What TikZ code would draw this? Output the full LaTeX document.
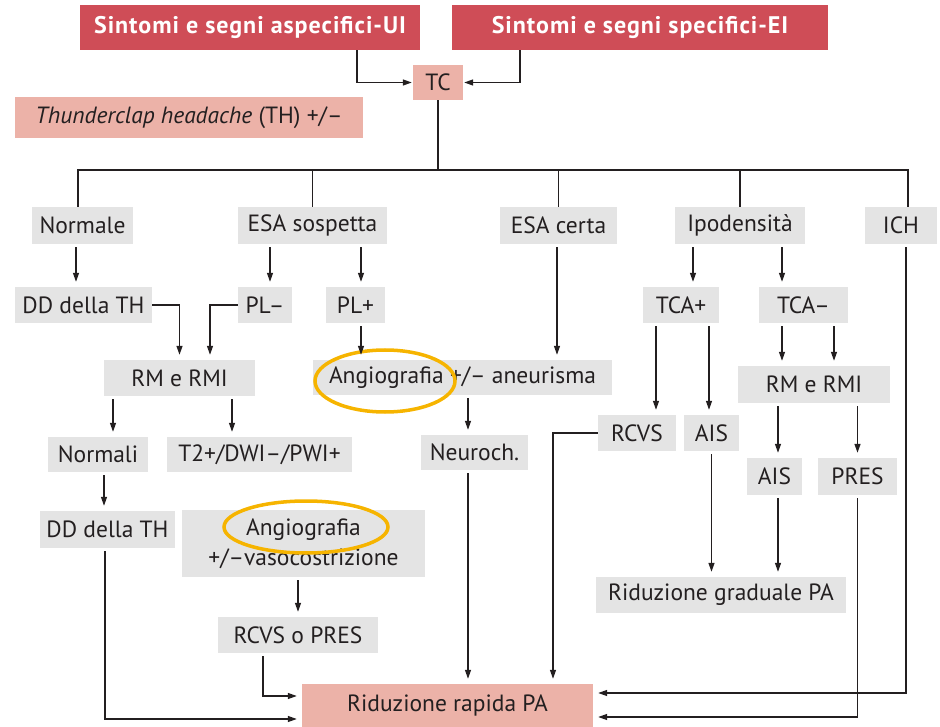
\documentclass[tikz,border=0pt]{standalone}
\usepackage{fontspec}
\setmainfont{PT Sans}
\usetikzlibrary{arrows.meta}

\definecolor{headred}{RGB}{207,77,87}
\definecolor{salmon}{RGB}{236,178,168}
\definecolor{boxgrey}{RGB}{228,228,228}
\definecolor{ringgold}{RGB}{246,180,0}
\definecolor{inkgrey}{RGB}{35,31,32}

\begin{document}
\begin{tikzpicture}[x=1pt,y=-1pt,
  every node/.style={font=\fontsize{23.5}{27}\selectfont, text=inkgrey, inner sep=0pt},
  greybox/.style={fill=boxgrey},
  headbox/.style={fill=headred, text=white, font=\fontsize{24}{27}\selectfont\bfseries\addfontfeature{LetterSpace=4}},
  pinkbox/.style={fill=salmon},
  line/.style={draw=inkgrey, line width=1.3pt},
  arr/.style={line, -{Triangle[length=9pt,width=6pt]}, shorten >=5pt, shorten <=3pt}
]
  \useasboundingbox (0,0) rectangle (940,727);

  % intestazione
  \node[headbox, minimum width=340, minimum height=45] (ui) at (250,27.5) {Sintomi e segni aspecifici-UI};
  \node[headbox, minimum width=376, minimum height=45] (ei) at (640,27.5) {Sintomi e segni specifici-EI};
  \node[pinkbox, minimum width=50, minimum height=35] (tc) at (438,82.5) {TC};
  \node[pinkbox, minimum width=348, minimum height=41] (th) at (189,117.5) {\textit{Thunderclap headache} (TH) +/–};

  % esiti della TC
  \node[greybox, minimum width=101, minimum height=37] (normale) at (82.5,225.5) {Normale};
  \node[greybox, minimum width=149, minimum height=37] (esasosp) at (312.5,225.5) {ESA sospetta};
  \node[greybox, minimum width=117, minimum height=37] (esacerta) at (558.5,225.5) {ESA certa};
  \node[greybox, minimum width=130, minimum height=37] (ipo) at (740,225.5) {Ipodensità};
  \node[greybox, minimum width=72, minimum height=37] (ich) at (901,225.5) {ICH};

  % secondo livello
  \node[greybox, minimum width=137, minimum height=36] (ddth) at (83.5,305) {DD della TH};
  \node[greybox, minimum width=54, minimum height=36] (plneg) at (265,305) {PL–};
  \node[greybox, minimum width=59, minimum height=36] (plpos) at (355.5,305) {PL+};
  \node[greybox, minimum width=76, minimum height=36] (tcapos) at (681,305) {TCA+};
  \node[greybox, minimum width=89, minimum height=36] (tcaneg) at (803.5,305) {TCA–};

  % terzo livello
  \node[greybox, minimum width=151, minimum height=36] (rmsx) at (179.5,378) {RM e RMI};
  \node[greybox, minimum width=299, minimum height=35] (angio) at (462.5,377.5) {Angiografia +/– aneurisma};
  \node[greybox, minimum width=152, minimum height=37] (rmdx) at (814,384.5) {RM e RMI};

  % quarto livello
  \node[greybox, minimum width=100, minimum height=35] (normali) at (98,454.5) {Normali};
  \node[greybox, minimum width=185, minimum height=35] (tdue) at (259.5,454.5) {T2+/DWI–/PWI+};
  \node[greybox, minimum width=107, minimum height=35] (neuro) at (474.5,452.5) {Neuroch.};
  \node[greybox, minimum width=78, minimum height=36] (rcvs) at (637,433) {RCVS};
  \node[greybox, minimum width=55, minimum height=36] (aissx) at (711.5,433) {AIS};
  \node[greybox, minimum width=55, minimum height=37] (aisdx) at (774.5,476.5) {AIS};
  \node[greybox, minimum width=79, minimum height=37] (pres) at (857.5,476.5) {PRES};

  % quinto livello
  \node[greybox, minimum width=135, minimum height=37] (ddthbis) at (107.5,529.5) {DD della TH};
  \node[greybox, minimum width=243, minimum height=67, align=center, font=\fontsize{23.5}{30}\selectfont] (angiobis) at (303.5,543.5) {Angiografia\\+/–vasocostrizione};
  \node[greybox, minimum width=250, minimum height=36] (ridgrad) at (721,595) {Riduzione graduale PA};
  \node[greybox, minimum width=160, minimum height=36] (rcvspres) at (298,635) {RCVS o PRES};
  \node[pinkbox, minimum width=291, minimum height=43] (ridrap) at (447.5,705.5) {Riduzione rapida PA};

  % evidenziazioni
  \draw[ringgold, line width=3.5pt] (385,381) ellipse (70 and 31);
  \draw[ringgold, line width=3.5pt] (306,527) ellipse (82 and 26);

  % collegamenti
  \coordinate (split) at (438,170);
  \draw[arr, shorten >=1pt, shorten <=0pt] ([xshift=107pt]ui.south) |- (tc.west);
  \draw[arr, shorten >=1pt, shorten <=0pt] ([xshift=-120pt]ei.south) |- (tc.east);
  \draw[line] (tc.south) -- (split);
  \draw[line] ([xshift=-4.5pt]normale.north) |- (split) -| ([xshift=7pt]ich.north);
  \foreach \n in {esasosp,esacerta,ipo}
    \draw[line] (\n.north) -- (\n.north |- split);

  \draw[arr] ([xshift=-6.5pt]normale.south) -- ([xshift=-6.5pt]normale.south |- ddth.north);
  \draw[arr] ([xshift=5pt]plneg.north |- esasosp.south) -- ([xshift=5pt]plneg.north);
  \draw[arr] ([xshift=5.5pt]plpos.north |- esasosp.south) -- ([xshift=5.5pt]plpos.north);
  \draw[arr] ([xshift=12pt]tcapos.north |- ipo.south) -- ([xshift=12pt]tcapos.north);
  \draw[arr] ([xshift=-21.5pt]tcaneg.north |- ipo.south) -- ([xshift=-21.5pt]tcaneg.north);

  \draw[arr, shorten <=0pt] (ddth.east) -| (rmsx.north);
  \draw[arr, shorten <=0pt] (plneg.west) -| ([xshift=30.5pt]rmsx.north);
  \draw[arr] ([xshift=5.5pt]plpos.south) -- ([xshift=5.5pt]plpos.south |- angio.north);
  \draw[arr] ([xshift=-1.5pt]esacerta.south) -- ([xshift=-1.5pt]esacerta.south |- angio.north);
  \draw[arr] ([xshift=-21.5pt]tcaneg.south) -- ([xshift=-21.5pt]tcaneg.south |- rmdx.north);
  \draw[arr] ([xshift=30.5pt]tcaneg.south) -- ([xshift=30.5pt]tcaneg.south |- rmdx.north);

  \draw[arr] ([xshift=-66.5pt]rmsx.south) -- ([xshift=-66.5pt]rmsx.south |- normali.north);
  \draw[arr] ([xshift=52.5pt]rmsx.south) -- ([xshift=52.5pt]rmsx.south |- tdue.north);
  \draw[arr] ([xshift=-6.5pt]neuro.north |- angio.south) -- ([xshift=-6.5pt]neuro.north);
  \draw[arr] ([xshift=19pt]rcvs.north |- tcapos.south) -- ([xshift=19pt]rcvs.north);
  \draw[arr] ([xshift=-2.5pt]aissx.north |- tcapos.south) -- ([xshift=-2.5pt]aissx.north);
  \draw[arr] ([xshift=3.5pt]aisdx.north |- rmdx.south) -- ([xshift=3.5pt]aisdx.north);
  \draw[arr] (pres.north |- rmdx.south) -- (pres.north);

  \draw[arr] ([xshift=6pt]normali.south) -- ([xshift=6pt]normali.south |- ddthbis.north);
  \draw[arr] (aissx.south) -- (aissx.south |- ridgrad.north);
  \draw[arr] ([xshift=3.5pt]aisdx.south) -- ([xshift=3.5pt]aisdx.south |- ridgrad.north);
  \draw[arr] (rcvspres.north |- angiobis.south) -- (rcvspres.north);

  \draw[arr] ([xshift=-35pt]rcvspres.south) |- ([yshift=9.5pt]ridrap.west);
  \draw[arr] ([xshift=-2.5pt]ddthbis.south) |- ([yshift=-13.5pt]ridrap.west);
  \draw[arr] ([xshift=-6.5pt]neuro.south) -- ([xshift=-6.5pt]neuro.south |- ridrap.north);
  \draw[arr, shorten <=0pt] (rcvs.west) -| ([xshift=105.5pt]ridrap.north);
  \draw[arr] ([xshift=5pt]ich.south) |- ([yshift=12.5pt]ridrap.east);
  \draw[arr] (pres.south) |- ([yshift=-11.5pt]ridrap.east);
\end{tikzpicture}
\end{document}
